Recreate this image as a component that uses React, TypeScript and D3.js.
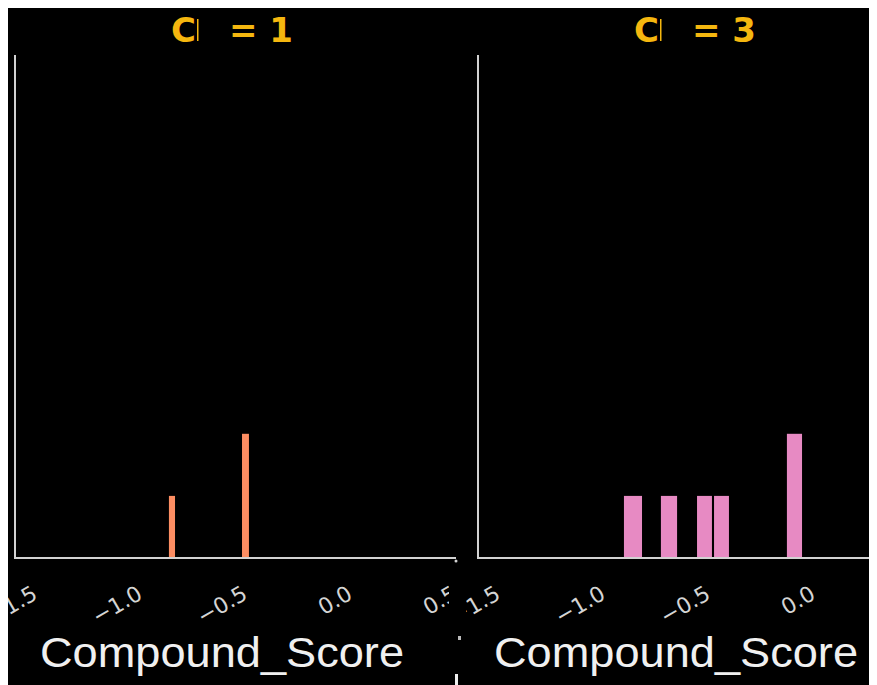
import React from "react";
import * as d3 from "d3";

// ---- data ----
const panelTitles = ["1", "3"];
const panelColors = ["#fc8d62", "#e78ac3"];
const tickValues = [-1.5, -1.0, -0.5, 0.0, 0.5];
const tickLabels = ["\u22121.5", "\u22121.0", "\u22120.5", "0.0", "0.5"];
const xLabel = "Compound_Score";

// panel C = 1 bins
const c1BinStart = [-0.881, -0.533];
const c1BinEnd = [-0.852, -0.5];
const c1Counts = [1, 2];

// panel C = 3 bins
const c3BinStart = [-0.919, -0.743, -0.571, -0.49, -0.143];
const c3BinEnd = [-0.833, -0.666, -0.5, -0.419, -0.071];
const c3Counts = [1, 1, 1, 1, 2];

const xDomain: [number, number] = [-1.614, 0.486];
const yDomain: [number, number] = [0, 8.1];

const W = 877;
const H = 685;
const panelLeft = [15, 478];
const panelWidth = 441;
const yTop = 55;
const yBase = 558;
const axisColor = "#d2d2d2";
const textColor = "#d4d4d4";
const titleColor = "#f5b70f";

const binsByPanel = [
  c1BinStart.map((s, i) => ({ x0: s, x1: c1BinEnd[i], n: c1Counts[i] })),
  c3BinStart.map((s, i) => ({ x0: s, x1: c3BinEnd[i], n: c3Counts[i] })),
];

const labelClip = [
  [8, 449],
  [466, 877],
];
const labelCenters = [222, 676];

export default function App() {
  const x = d3.scaleLinear().domain(xDomain).range([0, panelWidth]);
  const y = d3.scaleLinear().domain(yDomain).range([yBase, yTop]);

  return (
    <svg width={W - 8} height={H - 8} style={{ display: "block", background: "#000" }}>
      <defs>
        {labelClip.map((c, i) => (
          <clipPath id={`clip${i}`} key={i}>
            <rect x={c[0]} y={0} width={c[1] - c[0]} height={H} />
          </clipPath>
        ))}
      </defs>
      <g transform="translate(-8,-8)">
        <rect x={8} y={8} width={W} height={H} fill="#000" />
        {panelTitles.map((t, p) => {
          const off = panelLeft[p] - panelLeft[0];
          return (
            <g key={p} fontFamily="DejaVu Sans" fontWeight="bold" fontSize={34} fill={titleColor}>
              <text x={171 + off} y={42}>C</text>
              <rect x={197 + off} y={19} width={1.5} height={22} fill={titleColor} />
              <text x={229 + off} y={42}>{`= ${t}`}</text>
            </g>
          );
        })}
        {binsByPanel.map((bins, p) => (
          <g key={p} transform={`translate(${panelLeft[p]},0)`}>
            {bins.map((b, i) => (
              <rect
                key={i}
                x={x(b.x0)}
                y={y(b.n)}
                width={x(b.x1) - x(b.x0)}
                height={y(0) - y(b.n)}
                fill={panelColors[p]}
              />
            ))}
            <line x1={0} x2={0} y1={yTop} y2={yBase} stroke={axisColor} strokeWidth={2} />
            <line x1={-1} x2={panelWidth} y1={yBase} y2={yBase} stroke={axisColor} strokeWidth={2} />
          </g>
        ))}
        {binsByPanel.map((_, p) => (
          <g key={p} clipPath={`url(#clip${p})`}>
            {tickValues
              .map((v, i) => ({ v, label: tickLabels[i], tx: panelLeft[p] + x(v) }))
              .filter((d) => d.tx < W + 5)
              .map((d, i) => (
                <text
                  key={i}
                  x={d.tx}
                  y={598}
                  transform={`rotate(-30 ${d.tx} 598)`}
                  textAnchor="end"
                  fontFamily="DejaVu Sans"
                  fontSize={22}
                  fill={textColor}
                >
                  {d.label}
                </text>
              ))}
          </g>
        ))}
        {labelCenters.map((cx, p) => (
          <text
            key={p}
            x={cx}
            y={667}
            textAnchor="middle"
            fontFamily="Liberation Sans"
            fontSize={42}
            fill="#f0f0f0"
            textLength={364}
            lengthAdjust="spacingAndGlyphs"
          >
            {xLabel}
          </text>
        ))}
        <circle cx={456} cy={561} r={1.5} fill={axisColor} />
        <rect x={458} y={636} width={3} height={4} fill="#bbb" />
        <rect x={455} y={674} width={3} height={11} fill="#eee" />
      </g>
    </svg>
  );
}
